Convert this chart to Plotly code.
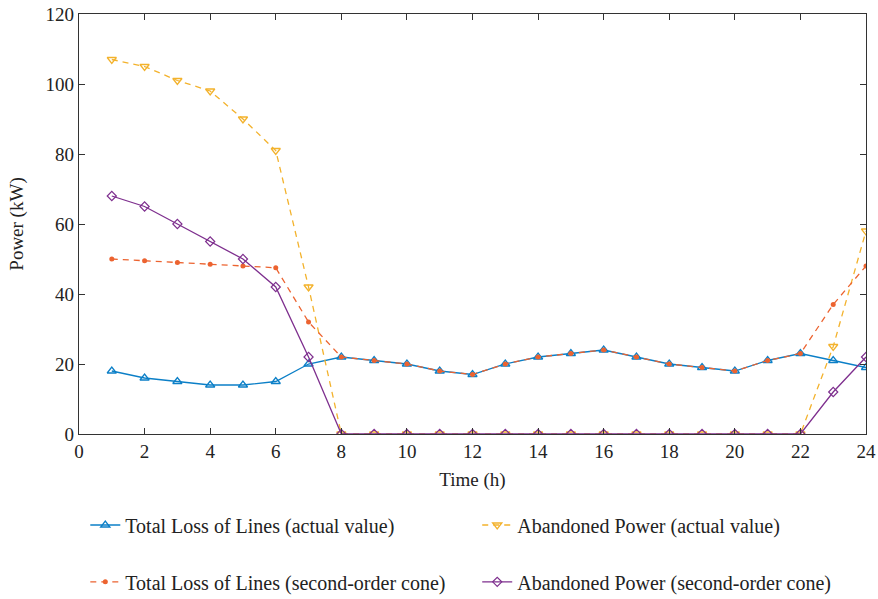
import plotly.graph_objects as go

hours = list(range(1, 25))
loss_actual = [18, 16, 15, 14, 14, 15, 20, 22, 21, 20, 18, 17, 20, 22, 23, 24, 22, 20, 19, 18, 21, 23, 21, 19]
loss_cone = [50, 49.5, 49, 48.5, 48, 47.5, 32, 22, 21, 20, 18, 17, 20, 22, 23, 24, 22, 20, 19, 18, 21, 23, 37, 48]
aband_actual = [107, 105, 101, 98, 90, 81, 42, 0, 0, 0, 0, 0, 0, 0, 0, 0, 0, 0, 0, 0, 0, 0, 25, 58]
aband_cone = [68, 65, 60, 55, 50, 42, 22, 0, 0, 0, 0, 0, 0, 0, 0, 0, 0, 0, 0, 0, 0, 0, 12, 22]

names = ["Total Loss of Lines (actual value)", "Abandoned Power (actual value)",
         "Total Loss of Lines (second-order cone)", "Abandoned Power (second-order cone)"]

BLUE = "#0b7fc7"
YELLOW = "#f3b22c"
ORANGE = "#ec6330"
PURPLE = "#7e2f8e"
FONT = "Liberation Serif"
FS = 20

fig = go.Figure()
fig.add_trace(go.Scatter(x=hours, y=loss_actual, name=names[0], mode="lines+markers",
                         line=dict(color=BLUE, width=1.3),
                         marker=dict(symbol="triangle-up-open", size=8, color=BLUE, line=dict(width=1.3)),
                         legend="legend2"))
fig.add_trace(go.Scatter(x=hours, y=aband_actual, name=names[1], mode="lines+markers",
                         line=dict(color=YELLOW, width=1.3, dash="6px,5px"),
                         marker=dict(symbol="triangle-down-open", size=8, color=YELLOW, line=dict(width=1.3)),
                         legend="legend3"))
fig.add_trace(go.Scatter(x=hours, y=loss_cone, name=names[2], mode="lines+markers",
                         line=dict(color=ORANGE, width=1.3, dash="6px,5px"),
                         marker=dict(symbol="circle", size=5, color=ORANGE),
                         legend="legend4"))
fig.add_trace(go.Scatter(x=hours, y=aband_cone, name=names[3], mode="lines+markers",
                         line=dict(color=PURPLE, width=1.3),
                         marker=dict(symbol="diamond-open", size=7, color=PURPLE, line=dict(width=1.2)),
                         legend="legend5"))

axis_common = dict(showline=True, linecolor="#333333", linewidth=1.3, mirror="ticks",
                   ticks="inside", ticklen=6, tickcolor="#333333", tickwidth=1.2,
                   showgrid=False, zeroline=False,
                   tickfont=dict(family=FONT, size=19, color="#222222"))

def leg(x, y):
    return dict(orientation="h", x=x, y=y, xanchor="left", yanchor="middle",
                font=dict(family=FONT, size=FS, color="#222222"),
                bgcolor="rgba(0,0,0,0)", itemwidth=30)

fig.update_layout(
    width=878, height=599,
    margin=dict(l=79, r=12, t=14, b=165, autoexpand=False),
    paper_bgcolor="white", plot_bgcolor="white",
    font=dict(family=FONT, size=FS, color="#222222"),
    xaxis=dict(range=[0, 24], dtick=2, tick0=0,
               title=dict(text="Time (h)", font=dict(size=19), standoff=11), **axis_common),
    yaxis=dict(range=[0, 120], dtick=20, tick0=0,
               title=dict(text="Power (kW)", font=dict(size=19), standoff=16), **axis_common),
    legend2=leg(0.008, -0.2167),
    legend3=leg(0.506, -0.2167),
    legend4=leg(0.008, -0.352),
    legend5=leg(0.506, -0.352),
)

fig.write_html("out.html", config={"displayModeBar": False},
               post_script="document.body.style.margin='0';")
